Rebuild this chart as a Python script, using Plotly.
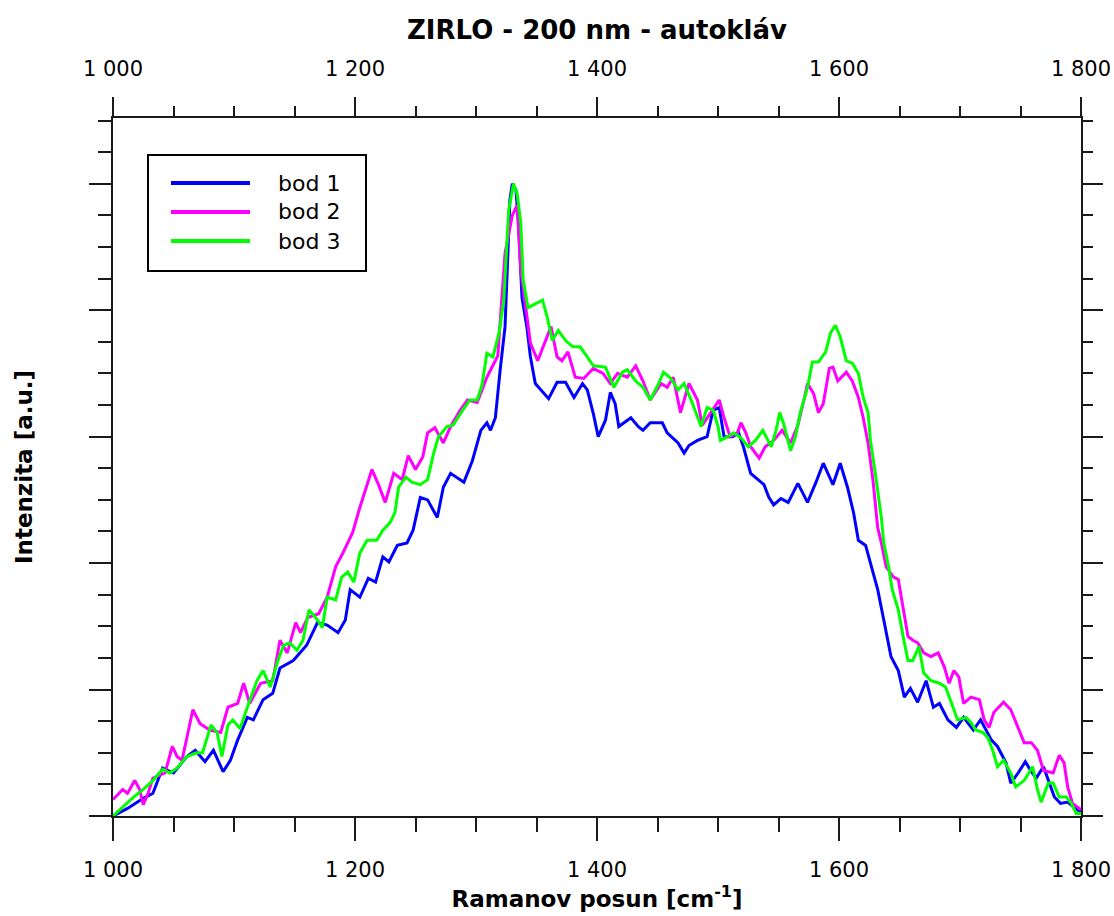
import plotly.graph_objects as go

# ---------------- data ----------------
series_names = ["bod 1", "bod 2", "bod 3"]

bod1_x = [1000,1012,1025,1033,1041,1050,1061,1068,1076,1083,
          1091,1097,1103,1111,1116,1124,1132,1138,1149,1160,
          1169,1177,1186,1192,1196,1204,1211,1217,1223,1228,
          1235,1243,1248,1254,1260,1268,1273,1279,1290,1297,
          1304,1309,1312,1316,1320,1324,1327,1328,1330,1333,
          1335,1338,1342,1345,1349,1355,1360,1367,1374,1381,
          1388,1392,1397,1401,1407,1411,1415,1418,1422,1428,
          1434,1438,1444,1454,1458,1467,1472,1476,1483,1491,
          1496,1501,1505,1512,1517,1521,1527,1533,1538,1542,
          1546,1552,1558,1566,1574,1581,1587,1595,1601,1607,
          1612,1616,1622,1626,1632,1637,1643,1649,1654,1659,
          1665,1672,1678,1683,1690,1697,1703,1711,1717,1726,
          1731,1738,1742,1748,1754,1759,1763,1769,1773,1778,
          1783,1789,1794,1800]
bod1_y = [0.00,0.06,0.14,0.18,0.38,0.34,0.47,0.52,0.43,0.52,
          0.35,0.44,0.60,0.78,0.76,0.92,0.97,1.17,1.23,1.35,
          1.53,1.51,1.45,1.55,1.79,1.73,1.88,1.85,2.05,2.01,
          2.14,2.16,2.26,2.52,2.50,2.36,2.60,2.71,2.64,2.81,
          3.05,3.11,3.05,3.15,3.53,3.87,4.61,4.87,5.00,4.95,
          4.71,4.10,3.87,3.63,3.42,3.35,3.30,3.43,3.43,3.31,
          3.42,3.37,3.18,3.00,3.13,3.35,3.26,3.08,3.11,3.15,
          3.08,3.05,3.11,3.11,3.03,2.95,2.87,2.93,2.97,3.00,
          3.21,3.23,3.00,3.00,3.03,2.92,2.71,2.66,2.62,2.52,
          2.46,2.51,2.48,2.63,2.48,2.64,2.79,2.62,2.79,2.60,
          2.40,2.18,2.14,2.00,1.79,1.55,1.26,1.15,0.94,1.01,
          0.90,1.07,0.86,0.89,0.76,0.70,0.78,0.68,0.76,0.60,
          0.55,0.42,0.26,0.34,0.43,0.35,0.30,0.39,0.28,0.15,
          0.10,0.11,0.07,0.03]

bod2_x = [1000,1008,1012,1018,1022,1025,1029,1033,1043,1049,
          1053,1057,1062,1066,1072,1080,1089,1095,1103,1108,
          1113,1122,1132,1138,1144,1151,1155,1161,1170,1177,
          1184,1190,1198,1204,1214,1219,1225,1232,1239,1244,
          1250,1256,1260,1266,1273,1279,1287,1293,1301,1309,
          1318,1324,1330,1334,1337,1341,1345,1351,1357,1362,
          1367,1371,1376,1382,1389,1397,1405,1411,1417,1425,
          1432,1438,1444,1453,1458,1463,1469,1476,1483,1487,
          1494,1501,1505,1510,1516,1519,1523,1527,1534,1539,
          1546,1553,1560,1566,1571,1574,1579,1583,1587,1592,
          1595,1599,1606,1611,1616,1620,1624,1628,1632,1635,
          1639,1645,1649,1654,1657,1661,1665,1670,1676,1682,
          1687,1691,1695,1699,1703,1709,1716,1720,1724,1728,
          1736,1742,1748,1753,1759,1764,1769,1777,1782,1786,
          1789,1793,1800]
bod2_y = [0.13,0.21,0.18,0.28,0.21,0.09,0.18,0.30,0.34,0.55,
          0.47,0.44,0.66,0.84,0.73,0.68,0.66,0.86,0.89,1.05,
          0.89,1.05,1.07,1.39,1.29,1.53,1.45,1.57,1.60,1.73,
          1.97,2.08,2.24,2.44,2.74,2.63,2.48,2.71,2.66,2.85,
          2.74,2.84,3.03,3.07,2.95,3.08,3.21,3.29,3.27,3.47,
          3.64,4.45,4.75,4.83,4.32,4.02,3.74,3.60,3.74,3.87,
          3.63,3.60,3.67,3.47,3.46,3.54,3.50,3.42,3.50,3.47,
          3.56,3.44,3.29,3.42,3.39,3.47,3.19,3.42,3.29,3.09,
          3.19,3.29,3.15,3.00,3.03,3.11,3.03,2.92,2.83,2.92,
          2.97,3.05,2.95,3.09,3.29,3.42,3.34,3.19,3.26,3.54,
          3.55,3.44,3.51,3.44,3.31,3.15,2.95,2.66,2.28,2.16,
          1.97,1.89,1.87,1.60,1.42,1.39,1.37,1.29,1.26,1.29,
          1.18,1.05,1.15,1.10,0.89,0.94,0.92,0.76,0.70,0.82,
          0.90,0.84,0.70,0.58,0.58,0.52,0.36,0.34,0.48,0.42,
          0.23,0.10,0.05]

bod3_x = [1000,1008,1017,1025,1033,1041,1047,1053,1061,1069,
          1074,1081,1086,1090,1095,1099,1105,1111,1119,1124,
          1130,1136,1141,1146,1152,1157,1162,1169,1173,1177,
          1184,1189,1194,1199,1204,1210,1218,1223,1229,1233,
          1236,1242,1247,1254,1260,1265,1269,1276,1281,1289,
          1295,1301,1305,1309,1314,1319,1323,1327,1331,1334,
          1337,1339,1343,1349,1355,1359,1363,1368,1374,1380,
          1386,1392,1397,1407,1414,1421,1425,1432,1438,1444,
          1451,1455,1461,1467,1472,1479,1486,1491,1496,1500,
          1502,1508,1513,1519,1525,1531,1537,1544,1548,1551,
          1554,1560,1564,1568,1574,1578,1583,1589,1593,1597,
          1601,1606,1611,1616,1620,1624,1626,1630,1635,1637,
          1641,1644,1649,1653,1657,1661,1666,1670,1676,1683,
          1688,1692,1698,1705,1709,1713,1719,1723,1727,1731,
          1736,1742,1746,1753,1760,1764,1767,1773,1777,1782,
          1788,1792,1796,1800]
bod3_y = [0.00,0.07,0.15,0.21,0.28,0.37,0.34,0.38,0.47,0.50,
          0.50,0.72,0.66,0.47,0.72,0.76,0.69,0.86,1.07,1.15,
          1.02,1.22,1.35,1.37,1.31,1.39,1.63,1.55,1.49,1.73,
          1.71,1.89,1.93,1.85,2.08,2.18,2.18,2.26,2.32,2.40,
          2.60,2.68,2.64,2.62,2.66,2.87,3.00,3.08,3.09,3.21,
          3.29,3.29,3.41,3.66,3.63,3.82,4.08,4.79,5.00,4.92,
          4.69,4.24,4.02,4.05,4.08,3.94,3.76,3.84,3.76,3.71,
          3.71,3.63,3.56,3.55,3.39,3.51,3.53,3.44,3.39,3.29,
          3.42,3.51,3.46,3.37,3.42,3.26,3.08,3.23,3.21,3.08,
          2.97,3.00,3.03,2.99,2.92,2.97,3.05,2.92,3.05,3.19,
          3.11,2.89,3.00,3.19,3.39,3.59,3.59,3.67,3.82,3.88,
          3.79,3.60,3.58,3.50,3.31,3.19,2.97,2.71,2.36,2.16,
          1.97,1.79,1.63,1.42,1.23,1.23,1.34,1.13,1.07,1.05,
          1.02,0.92,0.76,0.78,0.74,0.68,0.66,0.62,0.52,0.39,
          0.44,0.34,0.23,0.28,0.39,0.21,0.11,0.26,0.26,0.15,
          0.15,0.10,0.02,0.02]

x_tick_vals = [1000, 1200, 1400, 1600, 1800]

title_text = "ZIRLO - 200 nm - autokláv"
x_title = "Ramanov posun [cm<sup>-1</sup>]"
y_title = "Intenzita [a.u.]"

# ---------------- styling ----------------
colors = ["#0000FF", "#FF00FF", "#00FF00"]
AX = "#1a1a1a"
REG = "DejaVu Sans"

xs = [bod1_x, bod2_x, bod3_x]
ys = [bod1_y, bod2_y, bod3_y]

fig = go.Figure()
for name, x, y, c in zip(series_names, xs, ys, colors):
    fig.add_trace(go.Scatter(x=x, y=y, mode="lines", name=name,
                             line=dict(color=c, width=3),
                             showlegend=False, hoverinfo="skip"))

# helper trace to activate top / right axes
fig.add_trace(go.Scatter(x=[1000, 1800], y=[None, None], xaxis="x2", yaxis="y2",
                         mode="lines", showlegend=False, hoverinfo="skip"))

xr = [1000, 1800]
yr = [0, 5.52]

fig.update_layout(
    width=1114, height=916,
    margin=dict(l=113, r=33, t=118, b=100, autoexpand=False),
    paper_bgcolor="white", plot_bgcolor="white",
    separators=". ",
    title=dict(text="<b>%s</b>" % title_text, x=0.5, xref="paper",
               y=1 - 30 / 916, yref="container", yanchor="middle",
               font=dict(family=REG, size=26, color="#000")),
    xaxis=dict(range=xr, tickvals=x_tick_vals, separatethousands=True, automargin=False,
               showgrid=False, zeroline=False,
               showline=True, linecolor=AX, linewidth=2,
               ticks="outside", ticklen=23, tickwidth=2, tickcolor=AX,
               ticklabelstandoff=11,
               minor=dict(dtick=50, ticks="outside", ticklen=14, tickwidth=2, tickcolor=AX, showgrid=False),
               tickfont=dict(family=REG, size=21, color="#000"),
               title=dict(text="<b>%s</b>" % x_title, standoff=8,
                          font=dict(family=REG, size=23, color="#000"))),
    xaxis2=dict(range=xr, tickvals=x_tick_vals, separatethousands=True, automargin=False,
                overlaying="x", side="top", anchor="y",
                showgrid=False, zeroline=False,
                showline=True, linecolor=AX, linewidth=2,
                ticks="outside", ticklen=19, tickwidth=2, tickcolor=AX,
                ticklabelstandoff=13,
                minor=dict(dtick=50, ticks="outside", ticklen=10, tickwidth=2, tickcolor=AX, showgrid=False),
                tickfont=dict(family=REG, size=21, color="#000")),
    yaxis=dict(range=yr, dtick=1, tick0=0, showticklabels=False, automargin=False,
               showgrid=False, zeroline=False,
               showline=True, linecolor=AX, linewidth=2,
               ticks="outside", ticklen=22, tickwidth=2, tickcolor=AX,
               minor=dict(dtick=0.25, ticks="outside", ticklen=13, tickwidth=2, tickcolor=AX, showgrid=False),
               title=dict(text="<b>%s</b>" % y_title, standoff=50,
                          font=dict(family=REG, size=23, color="#000"))),
    yaxis2=dict(range=yr, dtick=1, tick0=0, showticklabels=False, automargin=False,
                overlaying="y", side="right", anchor="x",
                showgrid=False, zeroline=False,
                showline=True, linecolor=AX, linewidth=2,
                ticks="outside", ticklen=20, tickwidth=2, tickcolor=AX,
                minor=dict(dtick=0.25, ticks="outside", ticklen=10, tickwidth=2, tickcolor=AX, showgrid=False)),
)

# ---------------- manual legend (box, line samples, real text) ----------------
PW, PH = 968.0, 698.0
def px2paper(px, py):
    return (px - 113) / PW, (816 - py) / PH

bx0, by0 = px2paper(148, 271)
bx1, by1 = px2paper(366, 155)
fig.add_shape(type="rect", xref="paper", yref="paper", x0=bx0, y0=by0, x1=bx1, y1=by1,
              line=dict(color="#000", width=2), fillcolor="white", layer="above")
row_py = [183, 212, 241]
for name, c, py in zip(series_names, colors, row_py):
    lx0, ly = px2paper(171, py)
    lx1, _ = px2paper(250, py)
    fig.add_shape(type="line", xref="paper", yref="paper", x0=lx0, x1=lx1, y0=ly, y1=ly,
                  line=dict(color=c, width=4), layer="above")
    tx, _ = px2paper(276, py)
    fig.add_annotation(xref="paper", yref="paper", x=tx, y=ly, text=name, showarrow=False,
                       xanchor="left", yanchor="middle",
                       font=dict(family=REG, size=22, color="#000"))

fig.write_html("out.html")
